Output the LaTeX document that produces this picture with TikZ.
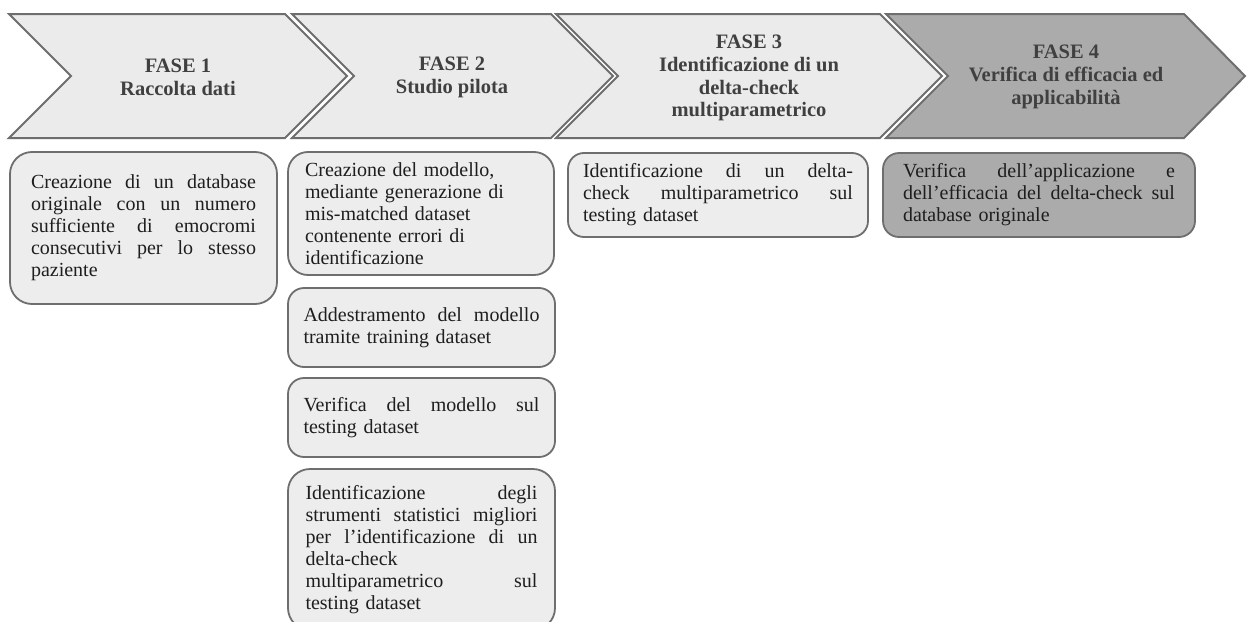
\documentclass[tikz,border=0pt]{standalone}
\usepackage{fontspec}
\setmainfont{Liberation Serif}
\definecolor{edge}{HTML}{6E6E6E}
\definecolor{lite}{HTML}{EBEBEB}
\definecolor{boxfill}{HTML}{EDEDED}
\definecolor{dark}{HTML}{ABABAB}
\definecolor{dtext}{HTML}{404040}
\definecolor{btext}{HTML}{1E1E1E}
\newcommand\J[2]{\leavevmode\hbox to #1{\spaceskip=.25em plus 1fil\relax\xspaceskip=.25em plus 1fil\relax #2}}
\begin{document}
\begin{tikzpicture}[x=1pt,y=-1pt,
  chev/.style={draw=edge, line width=2pt, fill=lite, line join=miter},
  chevtext/.style={font=\fontsize{20.5}{22.8}\selectfont\bfseries, text=dtext, align=center},
  box/.style={draw=edge, line width=1.8pt, fill=boxfill, rounded corners=16pt, inner sep=0pt,
    font=\fontsize{20}{22}\selectfont, text=btext, align=left}]
\useasboundingbox (0,0) rectangle (1247,621);
\fill[white] (0,0) rectangle (1247,621);
% chevrons
\draw[chev] (9,14) -- (285,14) -- (347,76) -- (285,138) -- (9,138) -- (71,76) -- cycle;
\draw[chev] (292,14) -- (551,14) -- (613,76) -- (551,138) -- (292,138) -- (354,76) -- cycle;
\draw[chev] (556,14) -- (880,14) -- (942,76) -- (880,138) -- (556,138) -- (618,76) -- cycle;
\draw[chev, fill=dark] (886,14) -- (1184,14) -- (1245,76) -- (1184,138) -- (886,138) -- (948,76) -- cycle;
\node[chevtext] (f1) at (178,77) {FASE 1\\Raccolta dati};
\node[chevtext] (f2) at (452,77) {FASE 2\\Studio pilota};
\node[chevtext] (f3) at (749,78) {FASE 3\\Identificazione di un\\delta-check\\multiparametrico};
\node[chevtext] (f4) at (1066,77) {FASE 4\\Verifica di efficacia ed\\applicabilità};
% boxes
\node[box, rounded corners=22pt, minimum width=267pt, minimum height=152pt, text width=225pt] (b1) at (143.5,228)
  {\J{225pt}{Creazione di un database}\\\J{225pt}{originale con un numero}\\\J{225pt}{sufficiente di emocromi}\\\J{225pt}{consecutivi per lo stesso}\\paziente};
\node[box, rounded corners=20pt, minimum width=266pt, minimum height=123pt, text width=232pt] (b2a) at (421,213.5)
  {Creazione del modello,\\mediante generazione di\\mis-matched dataset\\contenente errori di\\identificazione};
\node[box, minimum width=267pt, minimum height=79pt, text width=236pt] (b2b) at (421.5,327.5)
  {\J{236pt}{Addestramento del modello}\\tramite training dataset};
\node[box, minimum width=267pt, minimum height=79pt, text width=236pt] (b2c) at (421.5,417.5)
  {\J{236pt}{Verifica del modello sul}\\testing dataset};
\node[box, rounded corners=22pt, minimum width=267pt, minimum height=161pt, text width=232pt] (b2d) at (421.5,549.5)
  {\J{232pt}{Identificazione degli}\\\J{232pt}{strumenti statistici migliori}\\\J{232pt}{per l’identificazione di un}\\delta-check\\\J{232pt}{multiparametrico sul}\\testing dataset};
\node[box, minimum width=300pt, minimum height=84pt, text width=270pt] (b3) at (718,195)
  {\J{270pt}{Identificazione di un delta-}\\\J{270pt}{check multiparametrico sul}\\testing dataset};
\node[box, fill=dark, minimum width=312pt, minimum height=84pt, text width=272pt] (b4) at (1039,195)
  {\J{272pt}{Verifica dell’applicazione e}\\\J{272pt}{dell’efficacia del delta-check sul}\\database originale};
\end{tikzpicture}
\end{document}
